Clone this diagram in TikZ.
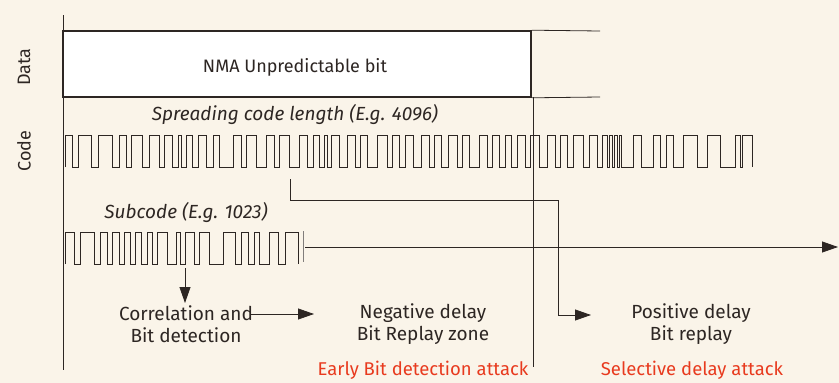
\documentclass[tikz,border=0pt]{standalone}
\usepackage{fontspec}
\setmainfont{Fira Sans}
\usetikzlibrary{arrows.meta}
\definecolor{bg}{RGB}{250,244,233}
\definecolor{ink}{RGB}{45,38,35}
\definecolor{attack}{RGB}{232,58,30}
\begin{document}
\begin{tikzpicture}[x=1pt,y=-1pt,
  thinline/.style={draw=ink, line width=0.8pt},
  wave/.style={draw=ink, line width=0.7pt, line join=miter},
  arr/.style={thinline, -{Triangle[length=16pt,width=11pt]}},
  databox/.style={draw=ink, line width=1.6pt, fill=white, minimum width=468pt, minimum height=66pt, inner sep=0pt},
  lbl/.style={text=ink, font=\fontsize{19}{22}\selectfont, align=center, inner sep=0pt},
  ital/.style={text=ink, font=\fontsize{19}{22}\selectfont\itshape, inner sep=0pt},
  attacktext/.style={text=attack, font=\fontsize{18.5}{22}\selectfont, inner sep=0pt},
  axislbl/.style={text=ink, font=\fontsize{18}{20}\selectfont, rotate=90, inner sep=0pt}]
\fill[bg] (0,0) rectangle (839,383);
\useasboundingbox (0,0) rectangle (839,383);

% axes and frame lines
\draw[thinline] (63,15) -- (63,370);
\node[databox] (data) at (297,64) {};
\node[lbl, anchor=base, font=\fontsize{18}{20}\selectfont] (nma) at (295,72) {NMA Unpredictable bit};
\draw[thinline] (data.north east) -- (600,31);
\draw[thinline] (data.south east) -- (600,97);
\draw[thinline] (533,97) -- (533,367);

% side labels
\node[axislbl] (datalbl) at (24,67) {Data};
\node[axislbl] (codelbl) at (24,151) {Code};

% spreading code
\node[ital] (spread) at (295,115) {Spreading code length (E.g. 4096)};
\draw[wave] (65,167) -- (65,135)
  \foreach \a/\b in {72/78, 91/98, 112/119, 126/131, 142/149, 159/164, 172/178, 181/186, 192/198, 206/213, 219/233, 241/246, 256/266, 274/279, 289/299, 307/313, 319/324, 327/331, 339/347, 355/360, 367/377, 387/392, 399/405, 413/421, 429/434, 441/448, 457/462, 469/479, 487/492, 499/505, 511/517, 525/530, 539/547, 555/560, 567/573, 583/589, 597/602, 607/609, 612/614, 617/619, 621/633, 641/653, 660/666, 673/683, 697/707, 720/735, 740/742}
  { -- (\a,135) -- (\a,167) -- (\b,167) -- (\b,135) }
  -- (752,135) -- (752,167);

% subcode
\node[ital] (sub) at (186,213) {Subcode (E.g. 1023)};
\draw[wave] (65,264) -- (65,232)
  \foreach \a/\b in {74/80, 94/100, 107/112, 119/124, 130/135, 141/147, 152/157, 167/176, 180/185, 194/199, 209/223, 235/241, 248/254, 259/269, 278/285}
  { -- (\a,232) -- (\a,264) -- (\b,264) -- (\b,232) }
  -- (298,232) -- (298,264);
\draw[draw=ink!60, line width=0.6pt] (303,231) -- (303,262);

% connector coordinates
\coordinate (codetap) at (290,179);
\coordinate (codeturn) at (290,200);
\coordinate (posturn1) at (558,200);
\coordinate (posturn2) at (558,315);
\coordinate (posin) at (591,315);
\coordinate (subout) at (305,247);
\coordinate (subend) at (838,247);
\coordinate (corrdown) at (185,268);
\coordinate (corrin) at (185,303);
\coordinate (corrout) at (250,314);
\coordinate (negin) at (314,314);

% text blocks
\node[lbl] (corr) at (186,324) {Correlation and\\Bit detection};
\node[lbl] (neg) at (423,324) {Negative delay\\Bit Replay zone};
\node[lbl] (pos) at (691,324) {Positive delay\\Bit replay};
\node[attacktext] (early) at (423,370) {Early Bit detection attack};
\node[attacktext] (selective) at (692,370) {Selective delay attack};

% connectors
\draw[arr] (codetap) -- (codeturn) -- (posturn1) -- (posturn2) -- (posin);
\draw[arr] (subout) -- (subend);
\draw[arr] (corrdown) -- (corrin);
\draw[arr] (corrout) -- (negin);
\end{tikzpicture}
\end{document}
